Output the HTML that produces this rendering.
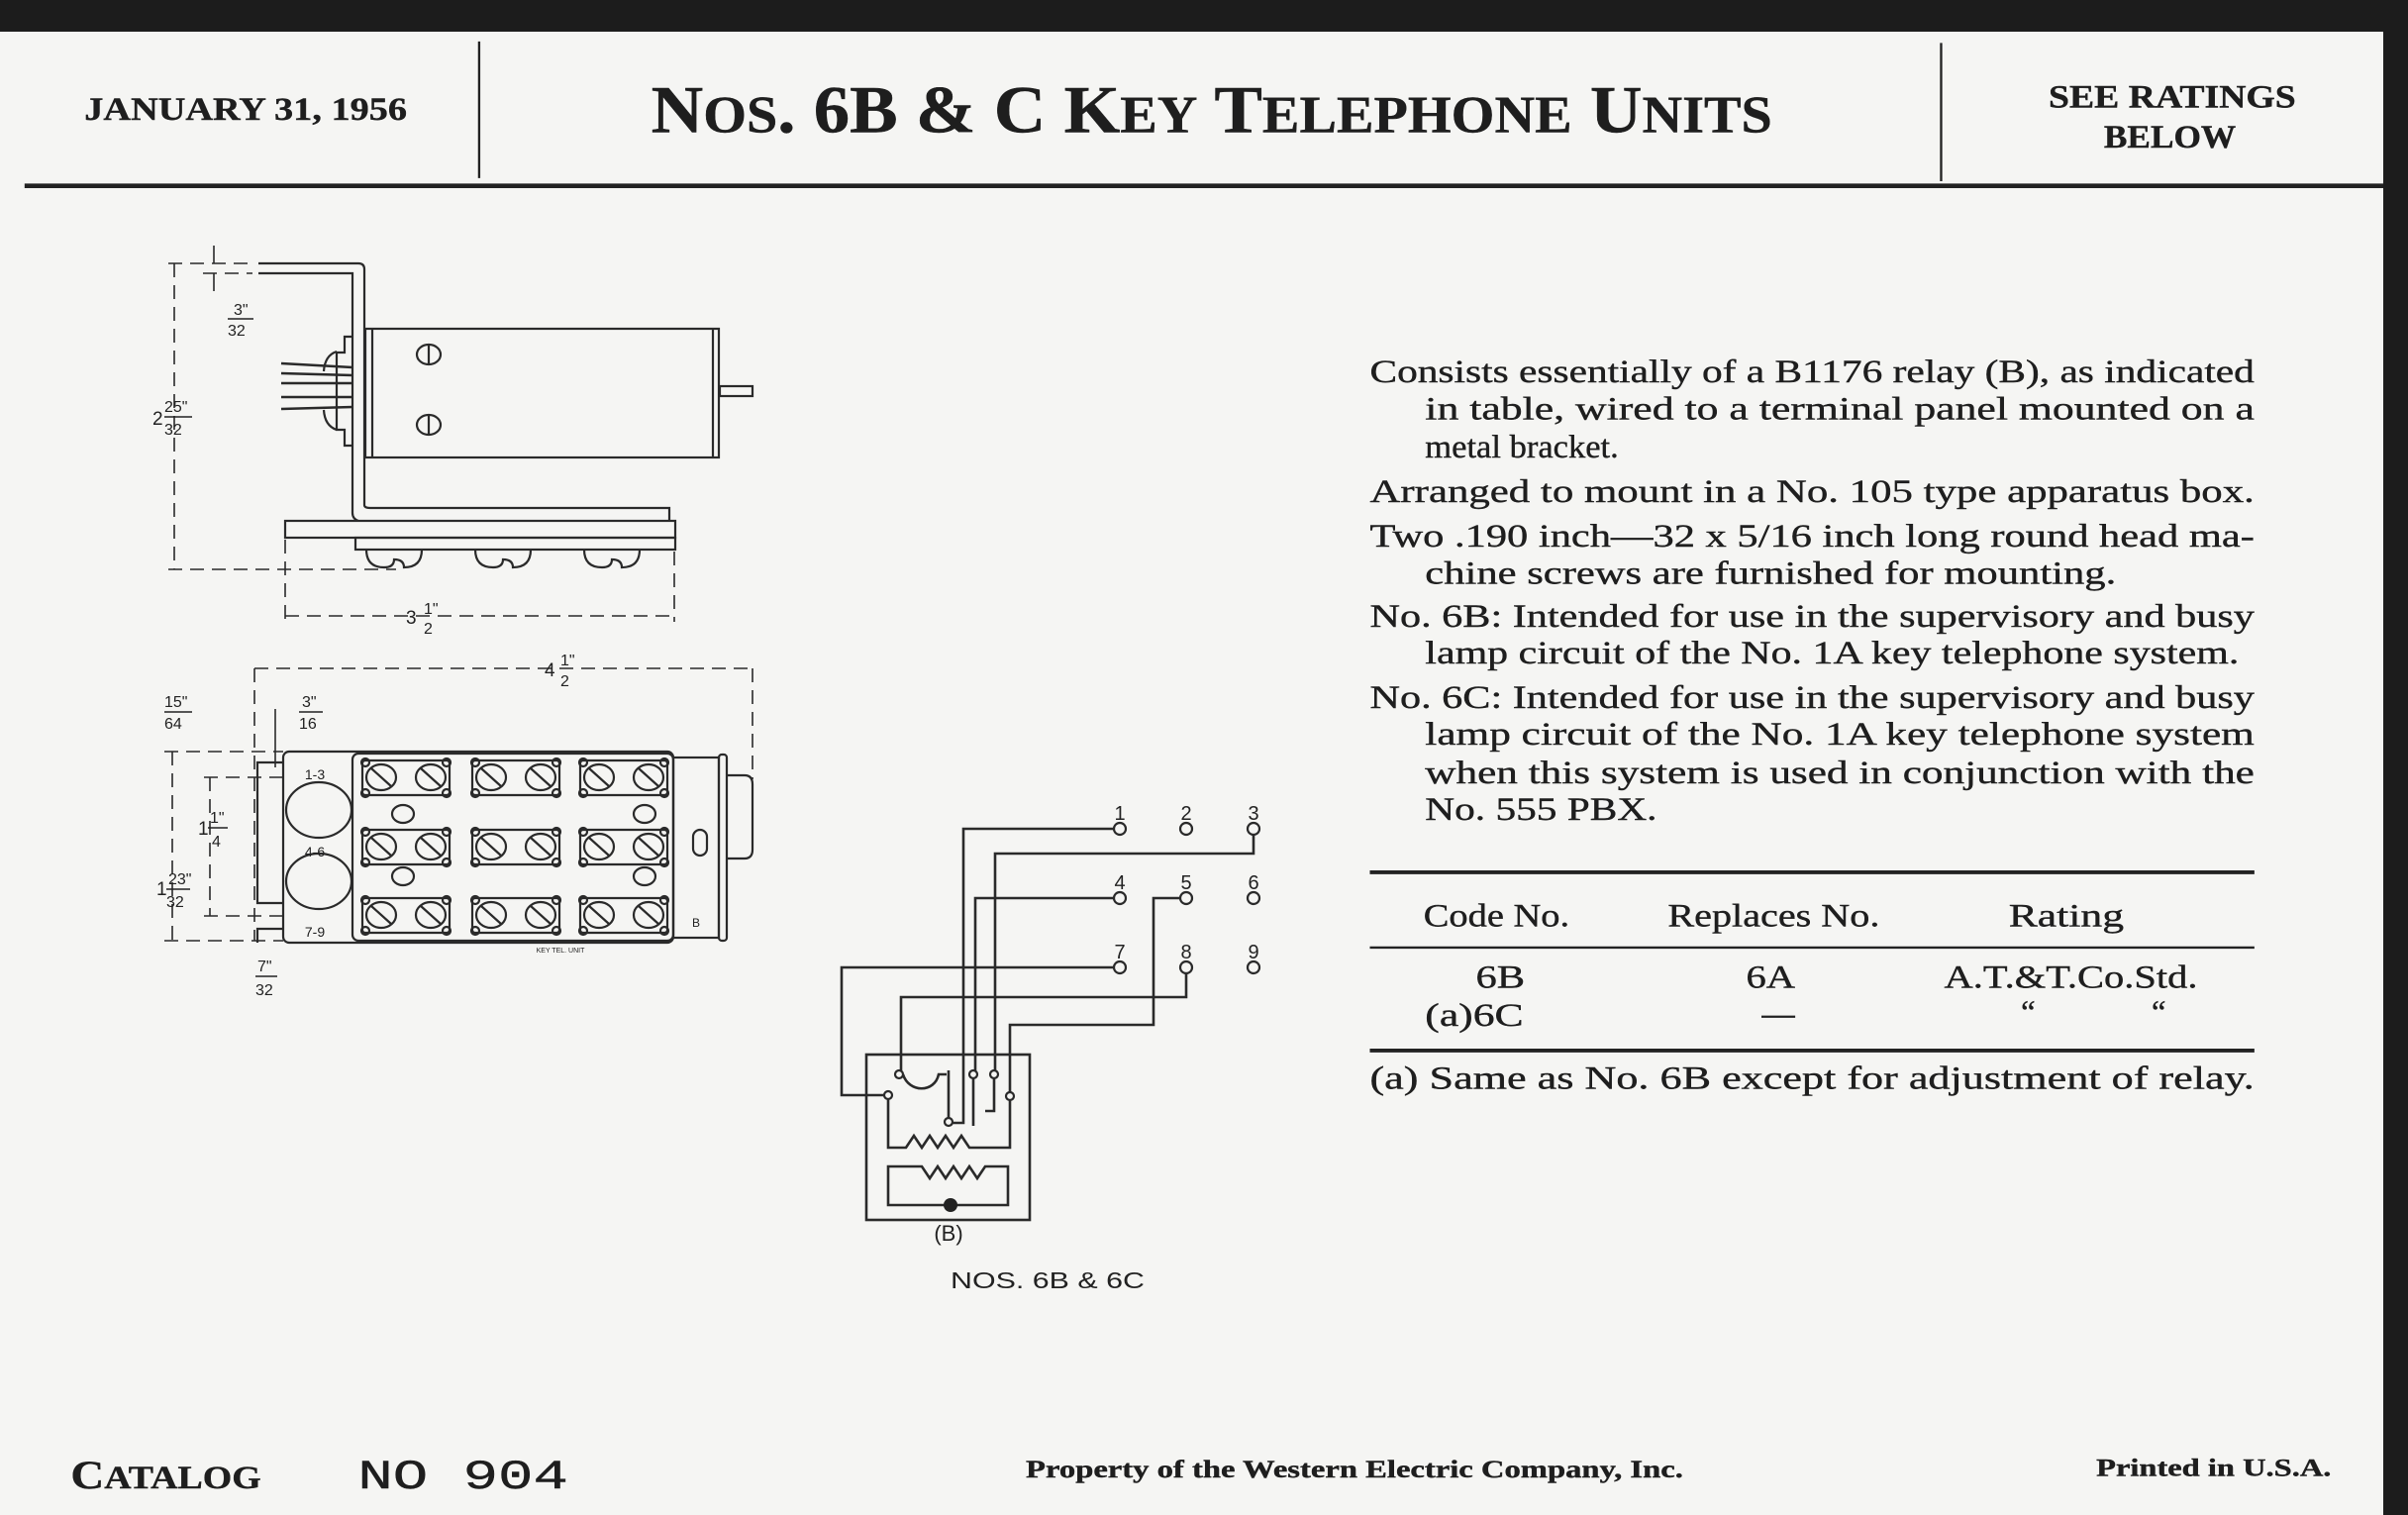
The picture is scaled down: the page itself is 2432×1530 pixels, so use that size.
<!DOCTYPE html>
<html><head><meta charset="utf-8"><style>
html,body{margin:0;padding:0;background:#1a1a1a;}
svg{display:block}
</style></head><body>
<svg width="2432" height="1530" viewBox="0 0 2432 1530" xmlns="http://www.w3.org/2000/svg">
<rect x="0" y="0" width="2432" height="1530" fill="#1c1c1c"/>
<rect x="0" y="32" width="2407" height="1498" fill="#f5f5f3"/>

<g transform="scale(1.551)" font-family="'Liberation Serif', serif" fill="#1e1e1e" stroke="#1e1e1e" stroke-width="0.25">
  <line x1="312" y1="27" x2="312" y2="116" stroke="#222" stroke-width="1.5"/>
  <line x1="1264" y1="28" x2="1264" y2="118" stroke="#222" stroke-width="1.5"/>
  <line x1="16" y1="121" x2="1552" y2="121" stroke="#222" stroke-width="3"/>
  <text x="55" y="78" font-size="21" font-weight="bold" textLength="210" lengthAdjust="spacingAndGlyphs">JANUARY 31, 1956</text>
  <text x="424" y="86" font-size="44" font-weight="bold" textLength="730" lengthAdjust="spacingAndGlyphs">N<tspan font-size="34">OS</tspan>. 6B &amp; C K<tspan font-size="34">EY</tspan> T<tspan font-size="34">ELEPHONE</tspan> U<tspan font-size="34">NITS</tspan></text>
  <text x="1334" y="70" font-size="21" font-weight="bold" textLength="161" lengthAdjust="spacingAndGlyphs">SEE RATINGS</text>
  <text x="1370" y="96" font-size="21" font-weight="bold" textLength="86" lengthAdjust="spacingAndGlyphs">BELOW</text>

  <g font-size="21">
  <text x="892" y="249" textLength="576" lengthAdjust="spacingAndGlyphs">Consists essentially of a B1176 relay (B), as indicated</text>
  <text x="928" y="273" textLength="540" lengthAdjust="spacingAndGlyphs">in table, wired to a terminal panel mounted on a</text>
  <text x="928" y="298" textLength="126" lengthAdjust="spacingAndGlyphs">metal bracket.</text>
  <text x="892" y="327" textLength="576" lengthAdjust="spacingAndGlyphs">Arranged to mount in a No. 105 type apparatus box.</text>
  <text x="892" y="356" textLength="576" lengthAdjust="spacingAndGlyphs">Two .190 inch—32 x 5/16 inch long round head ma-</text>
  <text x="928" y="380" textLength="450" lengthAdjust="spacingAndGlyphs">chine screws are furnished for mounting.</text>
  <text x="892" y="408" textLength="576" lengthAdjust="spacingAndGlyphs">No. 6B: Intended for use in the supervisory and busy</text>
  <text x="928" y="432" textLength="530" lengthAdjust="spacingAndGlyphs">lamp circuit of the No. 1A key telephone system.</text>
  <text x="892" y="461" textLength="576" lengthAdjust="spacingAndGlyphs">No. 6C: Intended for use in the supervisory and busy</text>
  <text x="928" y="485" textLength="540" lengthAdjust="spacingAndGlyphs">lamp circuit of the No. 1A key telephone system</text>
  <text x="928" y="510" textLength="540" lengthAdjust="spacingAndGlyphs">when this system is used in conjunction with the</text>
  <text x="928" y="534" textLength="151" lengthAdjust="spacingAndGlyphs">No. 555 PBX.</text>
  </g>
  <line x1="892" y1="568" x2="1468" y2="568" stroke="#222" stroke-width="2.5"/>
  <g font-size="21">
  <text x="927" y="603" textLength="95" lengthAdjust="spacingAndGlyphs">Code No.</text>
  <text x="1086" y="603" textLength="138" lengthAdjust="spacingAndGlyphs">Replaces No.</text>
  <text x="1308" y="603" textLength="75" lengthAdjust="spacingAndGlyphs">Rating</text>
  <text x="961" y="643" textLength="32" lengthAdjust="spacingAndGlyphs">6B</text>
  <text x="1137" y="643" textLength="32" lengthAdjust="spacingAndGlyphs">6A</text>
  <text x="1266" y="643" textLength="165" lengthAdjust="spacingAndGlyphs">A.T.&amp;T.Co.Std.</text>
  <text x="928" y="668" textLength="64" lengthAdjust="spacingAndGlyphs">(a)6C</text>
  <text x="1316" y="666">“</text><text x="1401" y="666">“</text>
  <text x="892" y="709" textLength="576" lengthAdjust="spacingAndGlyphs">(a)  Same as No. 6B except for adjustment of relay.</text>
  </g>
  <line x1="1147" y1="662" x2="1169" y2="662" stroke="#222" stroke-width="1.5"/>
  <line x1="892" y1="617" x2="1468" y2="617" stroke="#222" stroke-width="1.5"/>
  <line x1="892" y1="684" x2="1468" y2="684" stroke="#222" stroke-width="2.5"/>

  <text x="46" y="969" font-size="26" font-weight="bold" textLength="124" lengthAdjust="spacingAndGlyphs">C<tspan font-size="21">ATALOG</tspan></text>
  <text x="233" y="969" font-size="27" font-family="'Liberation Mono', monospace" textLength="137" lengthAdjust="spacingAndGlyphs">NO 904</text>
  <text x="668" y="962" font-size="16" font-weight="bold" textLength="428" lengthAdjust="spacingAndGlyphs">Property of the Western Electric Company, Inc.</text>
  <text x="1365" y="961" font-size="16" font-weight="bold" textLength="153" lengthAdjust="spacingAndGlyphs">Printed in U.S.A.</text>
</g>

<g fill="none" stroke="#2a2a2a" stroke-width="2.2" font-family="'Liberation Sans', sans-serif">
  <!-- side view -->
  <path d="M261,266 H362 Q368,266 368,272 V510 Q368,513 374,513 H676 V525"/>
  <path d="M261,276 H356 V518 Q356,524 362,526"/>
  <rect x="288" y="526" width="394" height="17"/>
  <rect x="359" y="543" width="323" height="12"/>
  <rect x="369" y="332" width="357" height="130"/>
  <line x1="376" y1="332" x2="376" y2="462"/>
  <line x1="720" y1="332" x2="720" y2="462"/>
  <rect x="727" y="390" width="33" height="10"/>
  <ellipse cx="433" cy="358" rx="12" ry="10"/><line x1="433" y1="348" x2="433" y2="368"/>
  <ellipse cx="433" cy="429" rx="12" ry="10"/><line x1="433" y1="419" x2="433" y2="439"/>
  <path d="M356,340 h-8 v16 h-8 v78 h8 v16 h8"/>
  <path d="M340,355 q-12,4 -13,20 M340,434 q-12,-4 -13,-20"/>
  <g stroke-width="2.6"><line x1="284" y1="367" x2="356" y2="371"/><line x1="284" y1="377" x2="356" y2="379"/><line x1="284" y1="387" x2="356" y2="387"/><line x1="284" y1="401" x2="356" y2="401"/><line x1="284" y1="413" x2="356" y2="411"/></g>
  <path d="M370,555 q0,18 18,18 q10,0 10,-8 q10,0 10,8 q18,0 18,-18 M480,555 q0,18 18,18 q10,0 10,-8 q10,0 10,8 q18,0 18,-18 M590,555 q0,18 18,18 q10,0 10,-8 q10,0 10,8 q18,0 18,-18"/>
  <g stroke-dasharray="14,8" stroke-width="1.6">
    <line x1="176" y1="266" x2="176" y2="575"/>
    <line x1="170" y1="575" x2="400" y2="575"/>
    <line x1="170" y1="266" x2="255" y2="266"/>
    <line x1="205" y1="276" x2="255" y2="276"/>
    <line x1="288" y1="545" x2="288" y2="628"/>
    <line x1="681" y1="557" x2="681" y2="628"/>
    <line x1="288" y1="622" x2="681" y2="622"/>
  </g>
  <line x1="216" y1="248" x2="216" y2="266" stroke-width="1.6"/>
  <line x1="216" y1="276" x2="216" y2="294" stroke-width="1.6"/>
  <!-- plan view -->
  <g stroke-dasharray="14,8" stroke-width="1.6">
    <line x1="257" y1="675" x2="760" y2="675"/>
    <line x1="257" y1="675" x2="257" y2="950"/>
    <line x1="760" y1="675" x2="760" y2="787"/>
    <line x1="166" y1="759" x2="286" y2="759"/>
    <line x1="166" y1="950" x2="286" y2="950"/>
    <line x1="174" y1="759" x2="174" y2="950"/>
    <line x1="206" y1="785" x2="288" y2="785"/>
    <line x1="206" y1="925" x2="288" y2="925"/>
    <line x1="212" y1="785" x2="212" y2="925"/>
  </g>
  <line x1="278" y1="716" x2="278" y2="775" stroke-width="1.6"/>
  <rect x="286" y="759" width="394" height="193" rx="6"/>
  <rect x="356" y="761" width="324" height="189" rx="6"/>
  <path d="M286,770 H260 V912 H286 M286,938 H260 V952"/>
  <rect x="680" y="765" width="46" height="182"/>
  <rect x="726" y="762" width="8" height="188" rx="3"/>
  <path d="M734,783 H752 Q760,783 760,792 V858 Q760,867 752,867 H734"/>
  <rect x="700" y="838" width="14" height="26" rx="7"/>
  <ellipse cx="322" cy="818" rx="33" ry="28"/><ellipse cx="322" cy="890" rx="33" ry="28"/>
  <g fill="#222" stroke="none" font-size="14" text-anchor="middle">
    <text x="318" y="787">1-3</text><text x="318" y="865">4-6</text><text x="318" y="946">7-9</text>
    <text x="566" y="962" font-size="7">KEY TEL. UNIT</text>
    <text x="703" y="936" font-size="12">B</text>
  </g>
  <g id="pair">
    <rect x="366" y="768" width="88" height="35" rx="3"/>
    <ellipse cx="385" cy="785" rx="15" ry="13"/><line x1="375" y1="776" x2="395" y2="794"/>
    <ellipse cx="435" cy="785" rx="15" ry="13"/><line x1="425" y1="776" x2="445" y2="794"/>
    <circle cx="369" cy="770" r="4"/><circle cx="451" cy="770" r="4"/><circle cx="369" cy="801" r="4"/><circle cx="451" cy="801" r="4"/>
  </g>
  <use href="#pair" x="111"/><use href="#pair" x="220"/>
  <use href="#pair" y="70"/><use href="#pair" x="111" y="70"/><use href="#pair" x="220" y="70"/>
  <use href="#pair" y="139"/><use href="#pair" x="111" y="139"/><use href="#pair" x="220" y="139"/>
  <ellipse cx="407" cy="822" rx="11" ry="9"/><ellipse cx="407" cy="885" rx="11" ry="9"/><ellipse cx="651" cy="822" rx="11" ry="9"/><ellipse cx="651" cy="885" rx="11" ry="9"/>
  <g fill="#222" stroke="none" font-size="19">
    <text x="236" y="318" font-size="16">3"</text><line x1="230" y1="322" x2="256" y2="322" stroke="#222" stroke-width="1.5"/><text x="230" y="339" font-size="16">32</text>
    <text x="154" y="429">2</text><text x="166" y="416" font-size="16">25"</text><line x1="166" y1="421" x2="194" y2="421" stroke="#222" stroke-width="1.5"/><text x="166" y="439" font-size="16">32</text>
    <text x="410" y="630">3</text><text x="428" y="620" font-size="16">1"</text><text x="428" y="640" font-size="16">2</text>
    <text x="550" y="683">4</text><text x="566" y="672" font-size="16">1"</text><text x="566" y="693" font-size="16">2</text>
    <text x="166" y="714" font-size="16">15"</text><line x1="166" y1="719" x2="194" y2="719" stroke="#222" stroke-width="1.5"/><text x="166" y="736" font-size="16">64</text>
    <text x="305" y="714" font-size="16">3"</text><line x1="302" y1="719" x2="326" y2="719" stroke="#222" stroke-width="1.5"/><text x="302" y="736" font-size="16">16</text>
    <text x="200" y="843">1</text><text x="212" y="831" font-size="16">1"</text><line x1="210" y1="836" x2="230" y2="836" stroke="#222" stroke-width="1.5"/><text x="214" y="855" font-size="16">4</text>
    <text x="158" y="904">1</text><text x="170" y="893" font-size="16">23"</text><line x1="168" y1="898" x2="192" y2="898" stroke="#222" stroke-width="1.5"/><text x="168" y="916" font-size="16">32</text>
    <text x="260" y="981" font-size="16">7"</text><line x1="258" y1="986" x2="280" y2="986" stroke="#222" stroke-width="1.5"/><text x="258" y="1005" font-size="16">32</text>
  </g>

  <!-- schematic -->
  <g stroke-width="2.6">
    <path d="M1126,837 H973 V1134 H962"/>
    <path d="M1266,843 V862 H1005 V1081"/>
    <path d="M1126,907 H985 V1081"/>
    <path d="M1194,907 H1165 V1035 H1020 V1103"/>
    <path d="M1126,977 H850 V1106 H893"/>
    <path d="M1198,983 V1007 H910 V1081"/>
    <rect x="875" y="1065" width="165" height="167"/>
    <path d="M912,1085 C918,1104 944,1104 948,1085 L956,1085"/>
    <line x1="958" y1="1081" x2="958" y2="1129"/>
    <line x1="983" y1="1089" x2="983" y2="1137"/>
    <path d="M1004,1089 V1122 H995"/>
    <path d="M897,1110 V1159 H915 l8,-12 8,12 8,-12 8,12 8,-12 8,12 8,-12 8,12 H1020 V1111"/>
    <path d="M1018,1178 H995 l-8,12 -8,-12 -8,12 -8,-12 -8,12 -8,-12 -8,12 -8,-12 H897 V1217 H1018 Z"/>
  </g>
  <circle cx="960" cy="1217" r="7" fill="#222" stroke="none"/>
  <g stroke-width="2.2" fill="#f5f5f3">
    <circle cx="908" cy="1085" r="4"/><circle cx="897" cy="1106" r="4"/><circle cx="958" cy="1133" r="4"/>
    <circle cx="983" cy="1085" r="4"/><circle cx="1004" cy="1085" r="4"/><circle cx="1020" cy="1107" r="4"/>
    <circle cx="1131" cy="837" r="6"/><circle cx="1198" cy="837" r="6"/><circle cx="1266" cy="837" r="6"/>
    <circle cx="1131" cy="907" r="6"/><circle cx="1198" cy="907" r="6"/><circle cx="1266" cy="907" r="6"/>
    <circle cx="1131" cy="977" r="6"/><circle cx="1198" cy="977" r="6"/><circle cx="1266" cy="977" r="6"/>
  </g>
  <g fill="#222" stroke="none" font-size="20" text-anchor="middle">
    <text x="1131" y="828">1</text><text x="1198" y="828">2</text><text x="1266" y="828">3</text>
    <text x="1131" y="898">4</text><text x="1198" y="898">5</text><text x="1266" y="898">6</text>
    <text x="1131" y="968">7</text><text x="1198" y="968">8</text><text x="1266" y="968">9</text>
    <text x="958" y="1253" font-size="22">(B)</text>
    <text x="1058" y="1301" font-size="23" textLength="196" lengthAdjust="spacingAndGlyphs">NOS. 6B &amp; 6C</text>
  </g>
</g>
</svg>
</body></html>
